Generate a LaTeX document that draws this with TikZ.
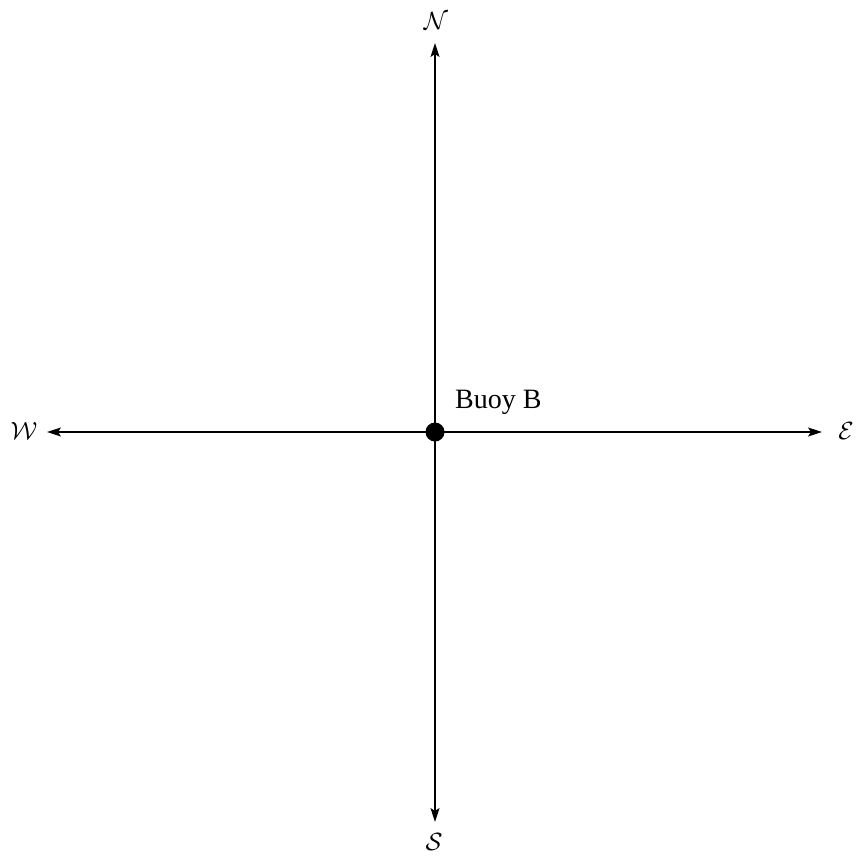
\documentclass[tikz,border=0pt]{standalone}
\usepackage{fontspec}
\setmainfont{Liberation Serif}
\usetikzlibrary{arrows.meta}
\begin{document}
\begin{tikzpicture}[x=1pt,y=-1pt,
  axis/.style={line width=1.2pt,-{Stealth[length=14pt,width=9pt,inset=3pt]}},
  lbl/.style={font=\fontsize{28}{34}\selectfont, inner sep=0pt}]
\useasboundingbox (0,0) rectangle (856,856);
\coordinate (O) at (435,432);
\coordinate (n) at (435,43);
\coordinate (s) at (435,822);
\coordinate (w) at (47,432);
\coordinate (e) at (822,432);
\draw[axis] (O) -- (n);
\draw[axis] (O) -- (s);
\draw[axis] (O) -- (w);
\draw[axis] (O) -- (e);
\node[circle, fill=black, minimum size=19pt, inner sep=0pt] (B) at (O) {};
\node[lbl, anchor=base west] (bl) at (455,408) {Buoy B};
\node[lbl] (N) at (436,21) {$\mathcal{N}$};
\node[lbl] (S) at (434,842) {$\mathcal{S}$};
\node[lbl] (W) at (24,431) {$\mathcal{W}$};
\node[lbl] (E) at (846,431) {$\mathcal{E}$};
\end{tikzpicture}
\end{document}
